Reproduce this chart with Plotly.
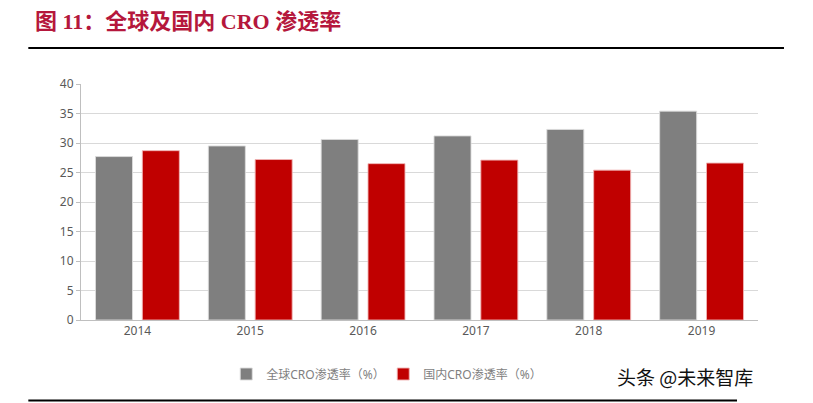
import plotly.graph_objects as go

years = ["2014", "2015", "2016", "2017", "2018", "2019"]
global_rate = [27.7, 29.5, 30.6, 31.2, 32.3, 35.4]
china_rate = [28.7, 27.2, 26.5, 27.1, 25.4, 26.6]
y_ticks = [0, 5, 10, 15, 20, 25, 30, 35, 40]

# page is 813x403, the html body adds an 8px margin
OFF = 8
W, H = 813 - OFF, 403 - OFF
L, R, T, B = 80.7, 758, 84, 320  # plot area in page pixels


def px(x):
    return (x - L) / (R - L)


def py(y):
    return (B - y) / (B - T)


fig = go.Figure()
fig.add_bar(
    x=years, y=global_rate, name="全球CRO渗透率（%）",
    marker=dict(color="#7F7F7F", line=dict(color="rgba(220,220,220,0.9)", width=1)),
)
fig.add_bar(
    x=years, y=china_rate, name="国内CRO渗透率（%）",
    marker=dict(color="#C00000", line=dict(color="rgba(240,180,180,0.9)", width=1)),
)

fig.update_layout(
    width=W, height=H,
    margin=dict(l=L - OFF, r=813 - R, t=T - OFF, b=403 - B, autoexpand=False),
    paper_bgcolor="white", plot_bgcolor="white",
    barmode="group", bargap=0.17, bargroupgap=0.21,
    font=dict(family="Noto Sans, Noto Sans CJK SC", size=12, color="#595959"),
    showlegend=True,
    legend=dict(
        orientation="h", x=px(226), y=py(374), xanchor="left", yanchor="middle",
        font=dict(size=12, color="#7F7F7F"), itemwidth=30, tracegroupgap=0,
        entrywidth=112, entrywidthmode="pixels",
        bgcolor="rgba(0,0,0,0)",
    ),
    xaxis=dict(
        showline=True, linecolor="#BFBFBF", linewidth=1, ticks="",
        tickfont=dict(size=12, color="#595959"), fixedrange=True,
    ),
    yaxis=dict(
        range=[0, 40], tickvals=y_ticks, showline=True, linecolor="#BFBFBF",
        linewidth=1, ticks="outside", ticklen=4, tickcolor="#BFBFBF",
        gridcolor="#D9D9D9", gridwidth=1, zeroline=False,
        tickfont=dict(size=12, color="#595959"), fixedrange=True,
    ),
)

# title and rules
fig.add_annotation(
    text="<b>图 11：全球及国内 CRO 渗透率</b>", xref="paper", yref="paper",
    x=px(33), y=py(21), xanchor="left", yanchor="middle", showarrow=False,
    font=dict(family="Liberation Serif, Noto Sans CJK SC", size=22, color="#B5173C"),
)
fig.add_shape(type="line", xref="paper", yref="paper",
              x0=px(28), x1=px(784), y0=py(48), y1=py(48),
              line=dict(color="black", width=2))
fig.add_shape(type="line", xref="paper", yref="paper",
              x0=px(28), x1=px(737), y0=py(400.5), y1=py(400.5),
              line=dict(color="black", width=2))
fig.add_annotation(
    text="头条 @未来智库", xref="paper", yref="paper",
    x=px(615), y=py(376), xanchor="left", yanchor="middle", showarrow=False,
    font=dict(family="Noto Sans CJK SC", size=19, color="#111111"),
)

fig.write_html("out.html", config={"displayModeBar": False})
